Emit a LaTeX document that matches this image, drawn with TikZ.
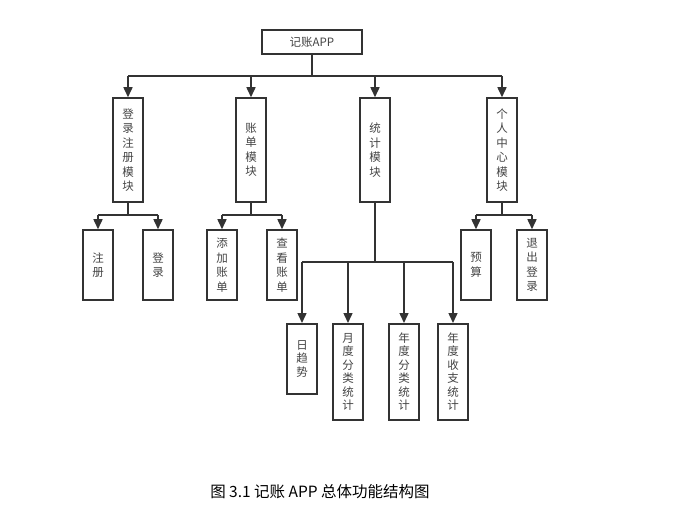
\documentclass[tikz,border=0pt]{standalone}
\usepackage{fontspec}
\setmainfont{Noto Sans CJK SC}
\usetikzlibrary{arrows.meta}
\definecolor{boxedge}{HTML}{333333}
\definecolor{boxtext}{HTML}{444444}
\definecolor{linkcol}{HTML}{333333}

\begin{document}
\begin{tikzpicture}[x=1pt, y=-1pt,
  mod/.style={rectangle, draw=boxedge, line width=1.5pt, fill=white,
              minimum width=30pt, inner sep=0pt, align=center, text=boxtext,
              font=\fontsize{11.5}{14.5}\selectfont},
  rootbox/.style={mod, minimum width=100pt, minimum height=24pt},
  lvtwo/.style={mod, minimum height=104pt},
  leaf/.style={mod, minimum height=70pt},
  tall/.style={mod, minimum height=96pt, anchor=north,
               font=\fontsize{11.5}{13.5}\selectfont},
  link/.style={draw=linkcol, line width=1.5pt},
  arr/.style={link, -{Triangle[length=10pt, width=9pt]}},
  captext/.style={font=\fontsize{15.5}{17}\selectfont, text=black},
]
\useasboundingbox (0,0) rectangle (678,516);
% ---- root and first level
\node[rootbox] (app) at (312,42) {记账APP};
\node[lvtwo] (login) at (128,150) {登\\录\\注\\册\\模\\块};
\node[lvtwo] (bill) at (251,150) {账\\单\\模\\块};
\node[lvtwo] (stats) at (375,150) {统\\计\\模\\块};
\node[lvtwo] (personal) at (502,150) {个\\人\\中\\心\\模\\块};
\coordinate (busone) at (312,76);
\draw[link] (app.south) -- (busone);
\draw[link] (login.north |- busone) -- (personal.north |- busone);
\foreach \m in {login, bill, stats, personal}
  \draw[arr] (\m.north |- busone) -- (\m.north);
% ---- second level leaves
\node[leaf] (register) at (98,265) {注\\册};
\node[leaf] (signin) at (158,265) {登\\录};
\node[leaf] (addbill) at (222,265) {添\\加\\账\\单};
\node[leaf] (viewbill) at (282,265) {查\\看\\账\\单};
\node[leaf] (budget) at (476,265) {预\\算};
\node[leaf] (logout) at (532,265) {退\\出\\登\\录};
\coordinate (busa) at (128,215);
\coordinate (busb) at (251,215);
\coordinate (busd) at (502,215);
\draw[link] (login.south) -- (busa);
\draw[link] (register.north |- busa) -- (signin.north |- busa);
\draw[arr] (register.north |- busa) -- (register.north);
\draw[arr] (signin.north |- busa) -- (signin.north);
\draw[link] (bill.south) -- (busb);
\draw[link] (addbill.north |- busb) -- (viewbill.north |- busb);
\draw[arr] (addbill.north |- busb) -- (addbill.north);
\draw[arr] (viewbill.north |- busb) -- (viewbill.north);
\draw[link] (personal.south) -- (busd);
\draw[link] (budget.north |- busd) -- (logout.north |- busd);
\draw[arr] (budget.north |- busd) -- (budget.north);
\draw[arr] (logout.north |- busd) -- (logout.north);
% ---- statistics branch
\node[tall, minimum height=70pt] (daytrend) at (302,323) {日\\趋\\势};
\node[tall] (monthcat) at (348,323) {月\\度\\分\\类\\统\\计};
\node[tall] (yearcat) at (404,323) {年\\度\\分\\类\\统\\计};
\node[tall] (yearflow) at (453,323) {年\\度\\收\\支\\统\\计};
\coordinate (busc) at (375,262);
\draw[link] (stats.south) -- (busc);
\draw[link] (daytrend.north |- busc) -- (yearflow.north |- busc);
\foreach \m in {daytrend, monthcat, yearcat, yearflow}
  \draw[arr] (\m.north |- busc) -- (\m.north);
% ---- caption
\node[captext] (caption) at (320,492) {图 3.1 记账 APP 总体功能结构图};
\end{tikzpicture}
\end{document}
